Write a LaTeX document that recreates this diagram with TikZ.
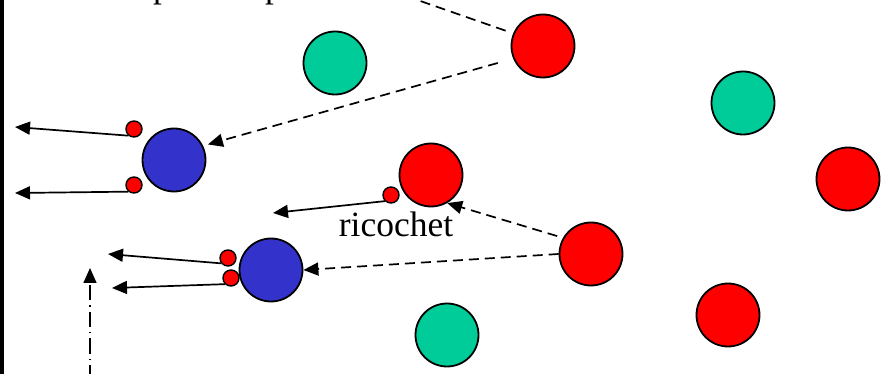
\documentclass[tikz,border=0pt]{standalone}
\usepackage{fontspec}
\setmainfont{Liberation Serif}
\usetikzlibrary{arrows.meta}
\definecolor{ballred}{RGB}{255,0,0}
\definecolor{ballgreen}{RGB}{0,204,153}
\definecolor{ballblue}{RGB}{51,51,204}
\tikzset{
  ball/.style={circle,draw=black,line width=1.8pt,minimum size=63pt,inner sep=0pt},
  redball/.style={ball,fill=ballred},
  greenball/.style={ball,fill=ballgreen},
  blueball/.style={ball,fill=ballblue},
  smalldot/.style={circle,draw=black,line width=1.4pt,fill=ballred,minimum size=16pt,inner sep=0pt},
  headtip/.style={-{Triangle[length=15pt,width=13pt]}},
  shot/.style={headtip,line width=1.7pt},
  traj/.style={headtip,line width=1.7pt,dash pattern=on 10pt off 6pt},
  trajline/.style={line width=1.7pt,dash pattern=on 10pt off 6pt},
  dashdotline/.style={headtip,line width=1.5pt,dash pattern=on 15pt off 5pt on 1.5pt off 5pt},
  label/.style={font=\fontsize{35.5}{42}\selectfont,inner sep=0pt}
}
\begin{document}
\begin{tikzpicture}[x=1pt,y=-1pt]
\useasboundingbox (0,0) rectangle (887,374);
\clip (0,0) rectangle (887,374);
\fill[white] (0,0) rectangle (887,374);
\fill[black] (0,0) rectangle (4,374);

% cut-off text at top
\node[label,anchor=base west] (p1) at (153,-2.5) {p};
\node[label,anchor=base west] (p2) at (265,-2.5) {p};
\coordinate (topend) at (360,-20);

% big balls
\node[greenball] (G1) at (335,63) {};
\node[redball]   (A)  at (543,46) {};
\node[greenball] (G2) at (743,103) {};
\node[redball]   (RB) at (848,179) {};
\node[blueball]  (B1) at (174,160) {};
\node[redball]   (C)  at (431,175) {};
\node[redball]   (D)  at (591,254) {};
\node[blueball]  (B2) at (271,270) {};
\node[greenball] (G3) at (447,335) {};
\node[redball]   (E)  at (728,315) {};

% small dots
\node[smalldot] (s1) at (134,129) {};
\node[smalldot] (s2) at (134,185) {};
\node[smalldot] (s3) at (391,195) {};
\node[smalldot] (s4) at (228,258) {};
\node[smalldot] (s5) at (231,278) {};

% free ends of the outgoing arrows
\coordinate (t1) at (15,127);
\coordinate (t2) at (15,193);
\coordinate (t3) at (273,213);
\coordinate (t4) at (108,254);
\coordinate (t5) at (112,288);
\coordinate (dd0) at (90,380);
\coordinate (dd1) at (90,268);

% solid arrows
\draw[shot] (s1.230) -- (t1);
\draw[shot] (s2.230) -- (t2);
\draw[shot] (s3.225) -- (t3);
\draw[shot] (s4.218) -- (t4);
\draw[shot] (s5.225) -- (t5);

% dashed trajectories
\draw[trajline,shorten <=8pt] (A.157) -- (topend);
\draw[traj,shorten <=16pt,shorten >=5pt] (A.203) -- (B1.26);
\draw[traj,shorten <=6pt] (D.150) -- (C.-60);
\draw[traj] (D.west) -- (B2.east);

% dash-dot arrow
\draw[dashdotline] (dd0) -- (dd1);

% label
\node[label,anchor=base] (ric) at (396,237) {ricochet};
\end{tikzpicture}
\end{document}
